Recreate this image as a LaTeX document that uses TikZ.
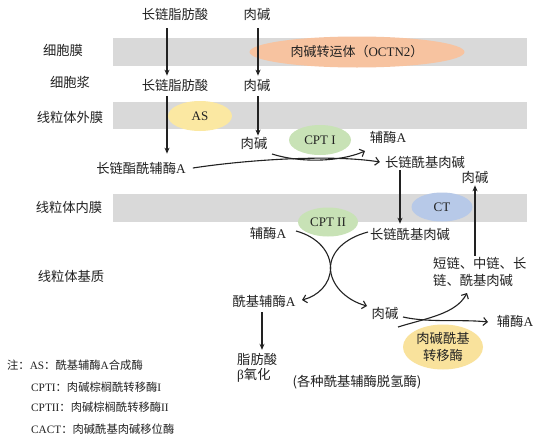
\documentclass[tikz,border=0pt]{standalone}
\usepackage{fontspec}
\setmainfont{Liberation Serif}
\newfontfamily\cjk{Noto Sans CJK SC}
\usetikzlibrary{shapes.geometric,arrows.meta}
\definecolor{bandgray}{HTML}{D9D9D9}
\definecolor{octn}{HTML}{F7C3A0}
\definecolor{asyel}{HTML}{FBE8A2}
\definecolor{cptgreen}{HTML}{C8E2B6}
\definecolor{ctblue}{HTML}{B7C9E8}
\definecolor{catyel}{HTML}{F9E29C}
\definecolor{ink}{HTML}{222222}
\begin{document}
\begin{tikzpicture}[x=1pt,y=-1pt,
  txt/.style={inner sep=1pt, text=ink, font=\fontsize{13.3}{16}\selectfont},
  note/.style={inner sep=1pt, text=ink, anchor=west, font=\fontsize{11.3}{13}\selectfont},
  ell/.style={ellipse, draw=none, inner sep=0pt, text=ink, font=\fontsize{13}{16}\selectfont},
  varrow/.style={line width=1.1pt, draw=ink, -{Stealth[length=6pt,width=5pt]}},
  carrow/.style={line width=1.1pt, draw=ink, -{Straight Barb[length=4pt,width=8pt]}},
  band/.style={fill=bandgray, draw=none}]
\useasboundingbox (0,0) rectangle (554,442);
\fill[white] (0,0) rectangle (554,442);

% membranes
\path[band] (113,38) rectangle (527,66);
\path[band] (113,102) rectangle (527,129);
\path[band] (113,194) rectangle (527,222);

% left labels
\node[txt] (lcm) at (63,50) {\cjk 细胞膜};
\node[txt] (lcy) at (70,82) {\cjk 细胞浆};
\node[txt] (lom) at (70,117) {\cjk 线粒体外膜};
\node[txt] (lim) at (69,207) {\cjk 线粒体内膜};
\node[txt] (lma) at (71,276) {\cjk 线粒体基质};

% enzymes
\node[ell, fill=octn, minimum width=215pt, minimum height=31pt] (octn) at (357,52)
  {{\cjk 肉碱转运体（}OCTN2{\cjk ）}};
\node[ell, fill=asyel, minimum width=64pt, minimum height=30pt] (as) at (200,116) {AS};
\node[ell, fill=cptgreen, minimum width=62pt, minimum height=30pt] (cpt1) at (320,140) {CPT I};
\node[ell, fill=ctblue, minimum width=61pt, minimum height=29pt] (ct) at (442,207) {CT};
\node[ell, fill=cptgreen, minimum width=60pt, minimum height=29pt] (cpt2) at (328,222) {CPT II};
\node[ell, fill=catyel, minimum width=80pt, minimum height=45pt, align=center,
  font=\fontsize{13.3}{17}\selectfont] (cat) at (443,347) {\cjk 肉碱酰基\\\cjk 转移酶};

% texts
\node[txt] (lcfa1) at (175,14) {\cjk 长链脂肪酸};
\node[txt] (car1) at (257,14) {\cjk 肉碱};
\node[txt] (lcfa2) at (175,85) {\cjk 长链脂肪酸};
\node[txt] (car2) at (257,85) {\cjk 肉碱};
\node[txt] (car3) at (254,143) {\cjk 肉碱};
\node[txt] (coa1) at (388,137) {{\cjk 辅酶}A};
\node[txt] (lcacoa) at (141,168) {{\cjk 长链酯酰辅酶}A};
\node[txt] (lcac1) at (425,162) {\cjk 长链酰基肉碱};
\node[txt] (car4) at (475,177) {\cjk 肉碱};
\node[txt] (coa2) at (268,233) {{\cjk 辅酶}A};
\node[txt] (lcac2) at (410,234) {\cjk 长链酰基肉碱};
\node[txt, align=left, anchor=west, font=\fontsize{13.3}{17}\selectfont] (short) at (432,271.5)
  {\cjk 短链、中链、长\\\cjk 链、酰基肉碱};
\node[txt] (acoa) at (264,301) {{\cjk 酰基辅酶}A};
\node[txt, align=left, anchor=west, font=\fontsize{13.3}{15}\selectfont] (fa) at (236,367.5)
  {\cjk 脂肪酸\\β{\cjk 氧化}};
\node[txt] (dehyd) at (357,382) {\cjk (各种酰基辅酶脱氢酶)};
\node[txt] (car5) at (385,313) {\cjk 肉碱};
\node[txt] (coa3) at (515,321) {{\cjk 辅酶}A};

% notes
\node[note] (n1) at (6,365) {{\cjk 注：}AS{\cjk ：酰基辅酶}A{\cjk 合成酶}};
\node[note] (n2) at (30,387) {CPTI{\cjk ：肉碱棕榈酰转移酶}I};
\node[note] (n3) at (30,407) {CPTII{\cjk ：肉碱棕榈酰转移酶}II};
\node[note] (n4) at (30,429) {CACT{\cjk ：肉碱酰基肉碱移位酶}};

% vertical arrows
\draw[varrow] ([xshift=-8pt,yshift=-7pt]lcfa1.south) -- ([xshift=-8pt,yshift=2pt]lcfa2.north);
\draw[varrow] ([xshift=1pt,yshift=-7pt]car1.south) -- ([xshift=1pt,yshift=2pt]car2.north);
\draw[varrow, shorten >=7pt] ([xshift=-8pt,yshift=-4pt]lcfa2.south) -- ([xshift=-8pt]lcfa2.south |- lcacoa.north);
\draw[varrow] ([xshift=1pt,yshift=-4pt]car2.south) -- ([xshift=1pt]car2.south |- car3.north);
\draw[varrow, shorten >=3pt] ([xshift=-25pt,yshift=-1pt]lcac1.south) -- ([xshift=-25pt]lcac1.south |- lcac2.north);
\draw[varrow] (car4.south |- short.north) -- ([yshift=-1pt]car4.south);
\draw[varrow, shorten >=2pt] ([xshift=-2pt,yshift=-4pt]acoa.south) -- ([xshift=-2pt]acoa.south |- fa.north);

% curved connectors
\coordinate (c1a) at (272,154);
\coordinate (c1b) at (365,151);
\draw[carrow] (c1a) .. controls (300,163) and (340,162) .. (c1b);
\draw[carrow] ([xshift=6pt]lcacoa.east) .. controls (245,160) and (330,154) .. ([xshift=-4pt]lcac1.west);

\coordinate (xa) at (296,231);
\coordinate (xb) at (367,306);
\coordinate (xc) at (368,232);
\coordinate (xd) at (302,300);
\coordinate (xm) at (330.5,268);
\draw[carrow] (xa) .. controls (318,237) and (330.5,252) .. (xm) .. controls (330.5,284) and (345,300) .. (xb);
\draw[carrow] (xc) .. controls (345,238) and (330.5,252) .. (xm) .. controls (330.5,284) and (318,296) .. (xd);

\coordinate (ya) at (403,317);
\coordinate (yb) at (488,322);
\coordinate (yc) at (398,327);
\coordinate (yd) at (467,293);
\draw[carrow] (ya) .. controls (430,323) and (460,319) .. (yb);
\draw[carrow] (yc) .. controls (427,318) and (456,314) .. (yd);
\end{tikzpicture}
\end{document}
